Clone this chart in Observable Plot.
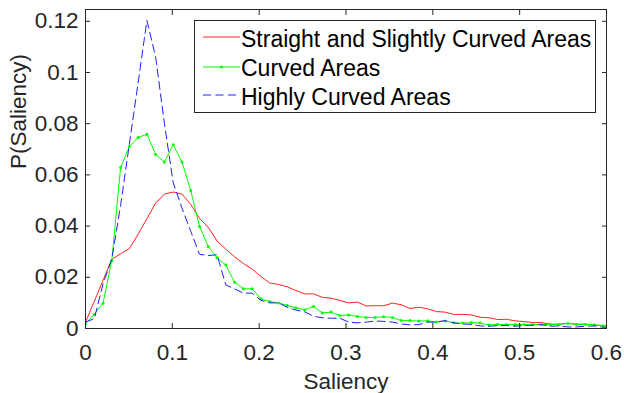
<!DOCTYPE html>
<html><head><meta charset="utf-8">
<script src="https://cdn.jsdelivr.net/npm/d3@7"></script>
<script src="https://cdn.jsdelivr.net/npm/@observablehq/plot@0.6"></script>
<style>
body{margin:0;background:#fff;}
#wrap{position:relative;width:624px;height:393px;font-family:"Liberation Sans",Arial,Helvetica,sans-serif;}
#legend{position:absolute;left:194px;top:20px;width:402px;height:93px;border:1px solid #262626;background:#fff;box-sizing:border-box;}
.row{position:absolute;left:8px;height:30px;display:flex;align-items:center;font-size:23px;color:#000;white-space:nowrap;}
.row svg{display:block;margin-right:1px;}
</style></head><body><div id="wrap"></div>
<script>
const saliency = [0,0.0101,0.0202,0.0303,0.0404,0.0505,0.0606,0.0707,0.0808,0.0909,0.1010,0.1111,0.1212,0.1313,0.1414,0.1515,0.1616,0.1717,0.1818,0.1919,0.2020,0.2121,0.2222,0.2323,0.2424,0.2525,0.2626,0.2727,0.2828,0.2929,0.3030,0.3131,0.3232,0.3333,0.3434,0.3535,0.3636,0.3737,0.3838,0.3939,0.4040,0.4141,0.4242,0.4343,0.4444,0.4545,0.4646,0.4747,0.4848,0.4949,0.5051,0.5152,0.5253,0.5354,0.5455,0.5556,0.5657,0.5758,0.5859,0.5960,0.6061];
const straight = [0.0025,0.0106,0.0188,0.0270,0.0292,0.0312,0.0368,0.0429,0.0490,0.0525,0.0533,0.0525,0.0485,0.0430,0.0395,0.0342,0.0310,0.0280,0.0254,0.0232,0.0203,0.0178,0.0172,0.0163,0.0148,0.0135,0.0135,0.0122,0.0118,0.0110,0.0100,0.0103,0.0088,0.0089,0.0089,0.0099,0.0093,0.0078,0.0083,0.0077,0.0066,0.0064,0.0055,0.0055,0.0053,0.0044,0.0042,0.0035,0.0036,0.0030,0.0027,0.0023,0.0023,0.0017,0.0017,0.0020,0.0017,0.0017,0.0014,0.0011,0.0008];
const curved = [0.0018,0.0055,0.0099,0.0266,0.0629,0.0711,0.0746,0.0759,0.0680,0.0650,0.0718,0.0650,0.0539,0.0398,0.0320,0.0276,0.0248,0.0181,0.0155,0.0155,0.0116,0.0105,0.0100,0.0090,0.0081,0.0073,0.0086,0.0061,0.0064,0.0051,0.0053,0.0047,0.0043,0.0043,0.0046,0.0043,0.0031,0.0031,0.0029,0.0030,0.0025,0.0029,0.0022,0.0021,0.0023,0.0021,0.0014,0.0016,0.0016,0.0015,0.0016,0.0016,0.0016,0.0015,0.0016,0.0020,0.0016,0.0016,0.0015,0.0011,0.0008];
const highly = [0.0025,0.0038,0.0174,0.0272,0.0480,0.0720,0.0960,0.1203,0.1060,0.0800,0.0570,0.0470,0.0380,0.0290,0.0285,0.0288,0.0170,0.0155,0.0138,0.0138,0.0110,0.0100,0.0100,0.0083,0.0072,0.0065,0.0048,0.0042,0.0040,0.0040,0.0025,0.0022,0.0025,0.0029,0.0028,0.0025,0.0018,0.0014,0.0015,0.0025,0.0025,0.0031,0.0022,0.0018,0.0016,0.0010,0.0009,0.0011,0.0012,0.0009,0.0011,0.0013,0.0015,0.0009,0.0010,0.0006,0.0006,0.0009,0.0010,0.0005,0.0004];
const seriesNames = ["Straight and Slightly Curved Areas","Curved Areas","Highly Curved Areas"];
const xTicks = [0,0.1,0.2,0.3,0.4,0.5,0.6];
const xTickLabels = ["0","0.1","0.2","0.3","0.4","0.5","0.6"];
const yTicks = [0,0.02,0.04,0.06,0.08,0.1,0.12];
const yTickLabels = ["0","0.02","0.04","0.06","0.08","0.1","0.12"];
const xLabel = "Saliency";
const yLabel = "P(Saliency)";

const rows = saliency.map((s, i) => ({s, a: straight[i], b: curved[i], c: highly[i]}));
const font = '"Liberation Sans",Arial,Helvetica,sans-serif';
const axisColor = "#262626";
const colors = ["#ff2020", "#00ff00", "#2020ff"];
const dash = "8,4.5";

const chart = Plot.plot({
  width: 624, height: 393,
  marginLeft: 85, marginRight: 18, marginTop: 9, marginBottom: 65,
  style: {fontFamily: font, fontSize: "22.5px", color: axisColor, background: "#fff"},
  x: {domain: [0, 0.6], label: null},
  y: {domain: [0, 0.1246], label: null},
  marks: [
    Plot.line(rows, {x: "s", y: "a", stroke: colors[0], strokeWidth: 1, clip: true}),
    Plot.line(rows, {x: "s", y: "b", stroke: colors[1], strokeWidth: 1, clip: true}),
    Plot.dot(rows, {x: "s", y: "b", r: 1.5, fill: colors[1], stroke: null, clip: true}),
    Plot.line(rows, {x: "s", y: "c", stroke: colors[2], strokeWidth: 1, strokeDasharray: dash, clip: true}),
    Plot.frame({stroke: axisColor, strokeWidth: 1}),
    Plot.axisX({anchor: "bottom", ticks: xTicks, tickFormat: (d) => xTickLabels[xTicks.indexOf(d)], tickSize: -5, tickPadding: 21, stroke: axisColor, fill: axisColor, label: null}),
    Plot.axisX({anchor: "top", ticks: xTicks, tickFormat: () => null, tickSize: -5, stroke: axisColor, label: null}),
    Plot.axisY({anchor: "left", ticks: yTicks, tickFormat: (d) => yTickLabels[yTicks.indexOf(d)], tickSize: -5, tickPadding: 12, stroke: axisColor, fill: axisColor, label: null}),
    Plot.axisY({anchor: "right", ticks: yTicks, tickFormat: () => null, tickSize: -5, stroke: axisColor, label: null}),
    Plot.text([xLabel], {frameAnchor: "bottom", dy: 53, fontSize: 22.5, fill: axisColor, lineAnchor: "middle"}),
    Plot.text([yLabel], {frameAnchor: "left", dx: -67, rotate: -90, fontSize: 22.5, fill: axisColor, lineAnchor: "middle"})
  ]
});

const wrap = document.getElementById("wrap");
wrap.appendChild(chart);

const legend = document.createElement("div");
legend.id = "legend";
const rowTops = [3, 32, 61];
const lineYs = [4, 5, 4];
seriesNames.forEach((name, k) => {
  const row = document.createElement("div");
  row.className = "row";
  row.style.top = rowTops[k] + "px";
  const c = colors[k];
  row.innerHTML = `<svg width="37" height="12"><line x1="0" y1="${lineYs[k]}" x2="37" y2="${lineYs[k]}" stroke="${c}" stroke-width="1" ${k === 2 ? `stroke-dasharray="${dash}"` : ""}/>${k === 1 ? `<circle cx="18.5" cy="${lineYs[k]}" r="1.5" fill="${c}"/>` : ""}</svg><span>${name}</span>`;
  legend.appendChild(row);
});
wrap.appendChild(legend);
</script></body></html>
